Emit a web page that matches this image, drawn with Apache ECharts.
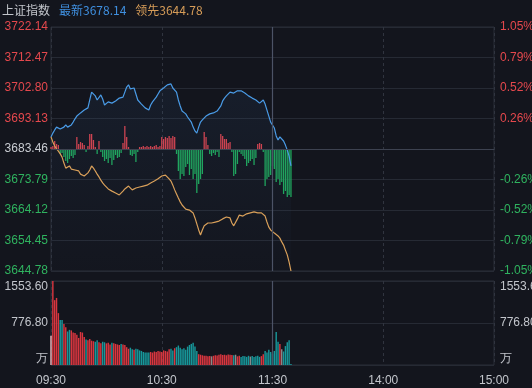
<!DOCTYPE html>
<html>
<head>
<meta charset="utf-8">
<script src="https://cdn.jsdelivr.net/npm/echarts@6/dist/echarts.min.js"></script>
<style>
html,body{margin:0;padding:0;background:#13151d;}
#chart{width:532px;height:388px;}
</style>
</head>
<body>
<div id="chart"></div>
<script>
// ---- data ----
const indexName = '上证指数';
const latestValue = 3678.14;
const leadValue = 3644.78;
const prevClose = 3683.46;
const priceTicks = [3644.78, 3654.45, 3664.12, 3673.79, 3683.46, 3693.13, 3702.80, 3712.47, 3722.14];
const pctTicks = ['-1.05%', '-0.79%', '-0.52%', '-0.26%', '', '0.26%', '0.52%', '0.79%', '1.05%'];
const volTicks = ['万', '776.80', '1553.60'];
const volMax = 1553.60;
const timeTickLabels = ['09:30', '10:30', '11:30', '14:00', '15:00'];

const latestLine = [
3687.3,3688.5,3689.5,3690.4,3690.8,3689.8,3689.5,3690.4,3691.1,3690.4,
3690.1,3691.1,3692.0,3693.0,3693.9,3694.2,3694.9,3695.2,3695.8,3695.5,
3696.5,3699.0,3701.5,3701.9,3700.3,3699.0,3699.3,3700.6,3699.3,3697.4,
3698.0,3698.4,3698.7,3698.0,3698.4,3698.7,3699.3,3699.6,3699.3,3699.9,
3701.5,3703.1,3703.8,3702.5,3701.9,3702.8,3700.9,3699.0,3698.4,3697.7,
3697.1,3696.5,3696.1,3695.8,3697.4,3698.4,3699.0,3699.9,3700.9,3701.9,
3702.2,3702.8,3703.4,3703.8,3704.4,3704.1,3702.8,3703.1,3701.5,3699.0,
3697.1,3695.5,3695.2,3694.6,3693.6,3693.3,3692.0,3690.4,3689.2,3688.5,
3690.4,3692.0,3692.7,3693.0,3693.9,3694.2,3694.6,3694.6,3694.9,3695.2,
3695.5,3695.8,3697.1,3698.7,3699.6,3700.3,3700.9,3701.5,3701.9,3701.2,
3701.2,3701.9,3702.2,3701.9,3701.5,3701.2,3700.6,3700.3,3700.3,3699.6,
3699.3,3699.0,3698.7,3698.0,3698.4,3699.0,3697.7,3695.8,3693.9,3692.0,
3691.4,3690.1,3687.6,3686.3,3687.3,3687.3,3686.0,3684.7,3683.1,3681.2,
3678.14];

const leadLine = [
3687.3,3685.7,3684.4,3683.5,3682.8,3681.9,3680.9,3679.0,3677.4,3677.8,
3678.1,3677.1,3676.5,3676.8,3677.4,3676.5,3675.5,3674.9,3674.9,3675.2,
3675.9,3676.8,3678.1,3677.4,3676.5,3675.5,3674.6,3673.6,3672.7,3672.0,
3671.4,3670.8,3670.5,3670.1,3669.8,3669.5,3668.9,3668.9,3669.5,3670.1,
3670.8,3671.4,3671.7,3671.1,3670.5,3670.8,3671.1,3671.1,3671.4,3671.7,
3671.7,3672.0,3672.0,3672.4,3672.7,3673.0,3673.3,3673.6,3674.0,3674.3,
3674.9,3675.2,3675.2,3674.6,3674.0,3673.3,3672.0,3670.5,3669.2,3667.9,
3666.7,3665.7,3665.1,3664.4,3664.1,3664.1,3663.8,3663.2,3661.6,3659.7,
3657.8,3656.2,3657.8,3659.1,3659.7,3660.0,3659.7,3660.0,3660.0,3660.3,
3660.3,3660.6,3661.0,3661.3,3661.9,3661.9,3661.6,3661.6,3660.0,3659.1,
3659.4,3661.3,3662.5,3662.5,3662.2,3662.5,3662.9,3663.2,3663.2,3663.5,
3663.5,3663.5,3663.2,3663.2,3663.2,3662.9,3662.2,3660.3,3658.7,3657.8,
3657.2,3656.8,3656.5,3655.9,3655.2,3654.0,3653.0,3651.4,3649.9,3647.6,
3644.78];

const breadthBars = [
2,3,8,5,4,-5,-4,-8,-12,-14,
-10,-7,-9,-6,12,5,7,6,4,-3,
3,15,15,9,2,-5,8,-3,-8,-12,
-10,-14,-9,-16,-11,-6,-9,-8,-4,6,
23,12,2,-6,-7,-5,-13,-3,2,2,
3,2,3,2,3,2,3,4,2,3,
12,10,12,11,13,11,13,12,-5,-22,
-30,-25,-27,-18,-15,-26,-20,-30,-25,-44,
-35,-30,-25,17,12,4,-5,-7,-4,-6,
-3,-8,15,13,10,10,6,7,-3,-27,
-25,-15,-3,-5,-7,-10,-17,-14,-12,-10,
-16,-9,5,6,5,-3,-37,-30,-28,-26,
-17,-20,-33,-30,-36,-33,-45,-42,-48,-46,
-48];

const volume = [
540,1553.6,1200,1240,960,830,830,760,700,620,
650,640,600,590,560,500,610,600,520,470,
460,480,450,440,430,460,420,400,430,420,
400,410,380,410,400,390,380,370,390,380,
370,330,300,320,290,280,300,290,270,260,
240,230,230,230,240,230,250,240,260,250,
240,270,260,250,290,300,270,310,330,360,
320,290,310,280,340,370,390,410,340,260,
200,190,180,170,170,160,165,160,170,180,
175,190,200,185,190,180,195,190,185,180,
190,160,170,150,165,160,150,170,155,165,
150,160,170,150,165,200,260,230,280,240,
210,260,610,430,390,290,250,350,420,460,
20];

// time categories of a trading day (09:30-11:30, 13:01-15:00)
const times = [];
for (let m = 9 * 60 + 30; m <= 11 * 60 + 30; m++) times.push(String(Math.floor(m / 60)).padStart(2, '0') + ':' + String(m % 60).padStart(2, '0'));
for (let m = 13 * 60 + 1; m <= 15 * 60; m++) times.push(String(Math.floor(m / 60)).padStart(2, '0') + ':' + String(m % 60).padStart(2, '0'));

// ---- style ----
const RED = '#e5484d', GREEN = '#2fb35f', GRAY = '#c9ccd2';
const FONT = 'Liberation Sans, Arial, sans-serif';
const priceMin = priceTicks[0], priceMax = priceTicks[priceTicks.length - 1];
const priceStep = +(priceTicks[1] - priceTicks[0]).toFixed(2);
const showTick = (i) => timeTickLabels.indexOf(times[i]) >= 0 && i % 60 === 0;

const chart = echarts.init(document.getElementById('chart'), null, {renderer: 'canvas'});
const option = {
  backgroundColor: '#13151d',
  animation: false,
  title: {
    left: 2, top: 0, padding: [1, 0, 0, 0],
    text: '{a|' + indexName + '} {b|最新' + latestValue.toFixed(2) + '} {c|领先' + leadValue.toFixed(2) + '}',
    textStyle: {
      fontWeight: 'normal',
      rich: {
        a: {color: '#c3c6cc', fontSize: 12, fontWeight: 'normal', fontFamily: 'Noto Sans CJK SC', padding: [0, 4, 0, 0]},
        b: {color: '#3f8fdf', fontSize: 12, fontWeight: 'normal', fontFamily: 'Noto Sans CJK SC', padding: [0, 4, 0, 0]},
        c: {color: '#d69c58', fontSize: 12, fontWeight: 'normal', fontFamily: 'Noto Sans CJK SC'}
      }
    }
  },
  grid: [
    {left: 51, right: 38, top: 27, height: 244, show: true, borderColor: '#2a2e39', borderWidth: 1, outerBoundsMode: 'none', containLabel: false},
    {left: 51, right: 38, top: 281, height: 84, show: true, borderColor: '#2a2e39', borderWidth: 1, outerBoundsMode: 'none', containLabel: false}
  ],
  xAxis: [
    {type: 'category', gridIndex: 0, data: times, boundaryGap: false,
     axisLine: {show: false}, axisTick: {show: false}, axisLabel: {show: false},
     splitLine: {show: true, interval: showTick, lineStyle: {color: '#30343f', type: [3, 3]}}},
    {type: 'category', gridIndex: 1, data: times, boundaryGap: false,
     axisLine: {show: false}, axisTick: {show: false},
     axisLabel: {show: true, interval: showTick, color: '#c3c6cc', fontSize: 12, fontFamily: FONT, margin: 10},
     splitLine: {show: true, interval: showTick, lineStyle: {color: '#30343f', type: [3, 3]}}}
  ],
  yAxis: [
    {type: 'value', gridIndex: 0, position: 'left', min: priceMin, max: priceMax, interval: priceStep,
     axisLine: {show: false}, axisTick: {show: false},
     axisLabel: {margin: 3, fontSize: 12, fontFamily: FONT,
       formatter: (v, i) => priceTicks[i] !== undefined ? priceTicks[i].toFixed(2) : '',
       color: (v) => (+v > prevClose + 0.001 ? RED : (+v < prevClose - 0.001 ? GREEN : GRAY))},
     splitLine: {show: true, lineStyle: {color: '#262a34'}}},
    {type: 'value', gridIndex: 0, position: 'right', min: priceMin, max: priceMax, interval: priceStep,
     axisLine: {show: false}, axisTick: {show: false},
     axisLabel: {margin: 6, fontSize: 12, fontFamily: FONT,
       formatter: (v, i) => pctTicks[i] !== undefined ? pctTicks[i] : '',
       color: (v) => (+v > prevClose + 0.001 ? RED : GREEN)},
     splitLine: {show: false}},
    {type: 'value', gridIndex: 0, min: -122, max: 122, show: false, splitLine: {show: false}},
    {type: 'value', gridIndex: 1, position: 'left', min: 0, max: volMax, interval: volMax / 2,
     axisLine: {show: false}, axisTick: {show: false},
     axisLabel: {margin: 3, fontSize: 12, fontFamily: FONT, color: '#c3c6cc',
       formatter: (v, i) => volTicks[i] !== undefined ? volTicks[i] : '',
       verticalAlignMinLabel: 'bottom', verticalAlignMaxLabel: 'top'},
     splitLine: {show: true, lineStyle: {color: '#262a34'}}},
    {type: 'value', gridIndex: 1, position: 'right', min: 0, max: volMax, interval: volMax / 2,
     axisLine: {show: false}, axisTick: {show: false},
     axisLabel: {margin: 6, fontSize: 12, fontFamily: FONT, color: '#c3c6cc',
       formatter: (v, i) => volTicks[i] !== undefined ? volTicks[i] : '',
       verticalAlignMinLabel: 'bottom', verticalAlignMaxLabel: 'top'},
     splitLine: {show: false}}
  ],
  series: [
    {name: 'breadth', type: 'bar', xAxisIndex: 0, yAxisIndex: 2, data: breadthBars, barWidth: '70%',
     itemStyle: {color: (p) => (p.value >= 0 ? '#d9414b' : '#1fa85a')}, silent: true},
    {name: '最新', type: 'line', xAxisIndex: 0, yAxisIndex: 0, data: latestLine, showSymbol: false,
     lineStyle: {color: '#4a9be6', width: 1.2},
     areaStyle: {origin: 'start', color: new echarts.graphic.LinearGradient(0, 0, 0, 1, [
       {offset: 0, color: 'rgba(60,110,170,0.14)'}, {offset: 1, color: 'rgba(60,110,170,0.02)'}])},
     markLine: {silent: true, symbol: 'none', label: {show: false},
       data: [
         {yAxis: prevClose, lineStyle: {color: '#3d4250', type: 'solid', width: 1}},
         {xAxis: '11:30', lineStyle: {color: '#4c5366', type: 'solid', width: 1.2}}
       ]}},
    {name: '领先', type: 'line', xAxisIndex: 0, yAxisIndex: 0, data: leadLine, showSymbol: false,
     lineStyle: {color: '#d9a05a', width: 1.2}},
    {name: '成交量', type: 'bar', xAxisIndex: 1, yAxisIndex: 3, data: volume, barWidth: '78%',
     itemStyle: {color: (p) => {
       const i = p.dataIndex;
       if (i === 0) return '#e9b5bb';
       const d = latestLine[i] - latestLine[i - 1];
       return d > 0 ? '#d9363f' : (d < 0 ? '#17979a' : '#8a8a8a');
     }},
     markLine: {silent: true, symbol: 'none', label: {show: false},
       data: [{xAxis: '11:30', lineStyle: {color: '#4c5366', type: 'solid', width: 1.2}}]}}
  ]
};
chart.setOption(option);
</script>
</body>
</html>
